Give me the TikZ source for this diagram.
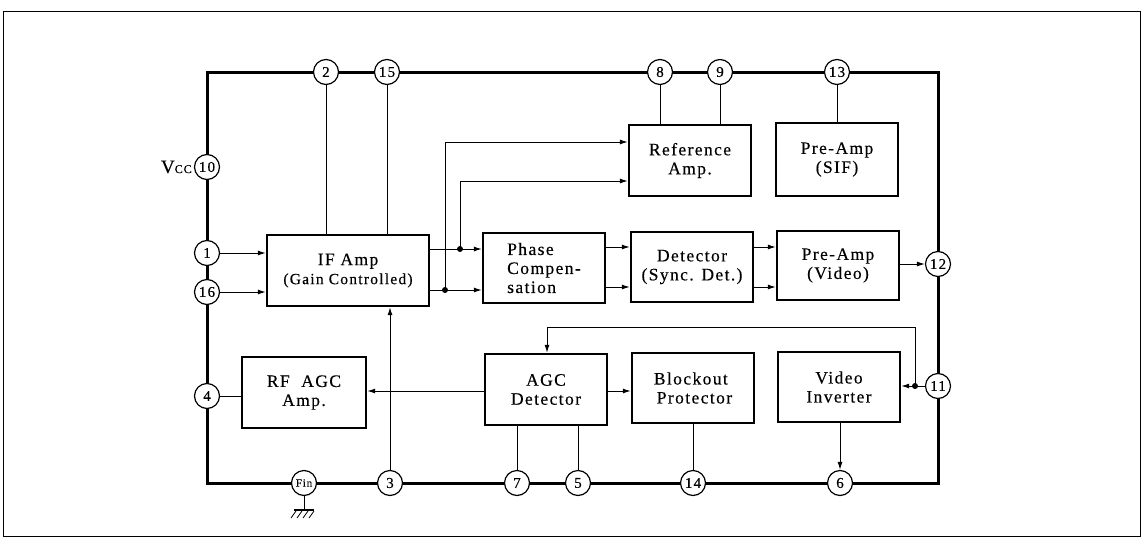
\documentclass[tikz,border=0pt]{standalone}
\usepackage{fontspec}
\setmainfont{Liberation Serif}[LetterSpace=8.0,FakeBold=0.3]
\usetikzlibrary{arrows.meta}
\begin{document}
\begin{tikzpicture}[x=1pt,y=-1pt,
  blk/.style={draw, line width=2.4pt, minimum width=122pt, minimum height=71pt, align=center, inner sep=0pt, font=\fontsize{17.5}{19}\selectfont},
  pinc/.style={draw, circle, fill=white, line width=1.2pt, minimum size=25pt, inner sep=0pt, font=\fontsize{15}{15}\selectfont},
  conn/.style={line width=1pt},
  arr/.style={line width=1pt, -{Latex[length=8pt,width=5pt]}},
  jdot/.style={circle, fill=black, inner sep=0pt, minimum size=6pt}]
\useasboundingbox (0,0) rectangle (1147,543);
% outer frame
\draw[line width=1pt] (3,12) rectangle (1140,536);
% chip frame
\draw[line width=3pt] (207,72) rectangle (938,483);

% blocks
\node[blk, minimum width=162pt] (ifamp) at (348,270.5) {IF Amp\\{\fontsize{15.5}{19}\selectfont(Gain Controlled)}};
\node[blk, minimum height=70pt, align=left] (phase) at (544,268) {Phase\\Compen-\\sation};
\node[blk] (ref) at (690,160.5) {Reference\\Amp.};
\node[blk, minimum height=73pt] (sif) at (837,159.5) {Pre-Amp\\(SIF)};
\node[blk, minimum height=70pt] (det) at (692,267) {Detector\\(Sync. Det.)};
\node[blk, minimum height=69pt] (vid) at (838,265.5) {Pre-Amp\\(Video)};
\node[blk, minimum width=124pt] (rfagc) at (304,392.5) {RF\ \ AGC\\Amp.};
\node[blk] (agcdet) at (546,389.5) {AGC\\Detector};
\node[blk, minimum height=70pt, align=left] (block) at (693,388) {Blockout\\\,Protector};
\node[blk, minimum height=70pt] (vinv) at (839,387) {Video\\Inverter};

% pins
\node[pinc] (p2) at (326,72) {2};
\node[pinc] (p15) at (387,72) {15};
\node[pinc] (p8) at (660,72) {8};
\node[pinc] (p9) at (720,72) {9};
\node[pinc] (p13) at (837,72) {13};
\node[pinc] (p10) at (207,167) {10};
\node[pinc] (p1) at (207,253) {1};
\node[pinc] (p16) at (207,292) {16};
\node[pinc] (p4) at (207,396) {4};
\node[pinc, font=\fontsize{11}{11}\selectfont] (fin) at (304,483) {Fin};
\node[pinc] (p3) at (390,483) {3};
\node[pinc] (p7) at (517,483) {7};
\node[pinc] (p5) at (578,483) {5};
\node[pinc] (p14) at (693,483) {14};
\node[pinc] (p6) at (840,483) {6};
\node[pinc] (p11) at (938,386) {11};
\node[pinc] (p12) at (938,264) {12};

\node[anchor=east, inner sep=2pt, font=\fontsize{19}{19}\selectfont] (vcc) at (p10.west) {V{\fontsize{12}{12}\selectfont CC}};

% coordinates
\coordinate (j1) at (460,249);
\coordinate (j2) at (445,290);
\coordinate (r1) at (600,142);
\coordinate (r2) at (600,181);
\coordinate (c1) at (0,247);
\coordinate (c2) at (0,287);
\coordinate (g1) at (0,391);
\coordinate (j3) at (915,386);
\coordinate (k1) at (547,327);
\coordinate (g0) at (304,510);

% top connections
\draw[conn] (p2) -- (p2 |- ifamp.north);
\draw[conn] (p15) -- (p15 |- ifamp.north);
\draw[conn] (p8) -- (p8 |- ref.north);
\draw[conn] (p9) -- (p9 |- ref.north);
\draw[conn] (p13) -- (p13 |- sif.north);

% inputs
\draw[arr] (p1) -- (p1 -| ifamp.west);
\draw[arr] (p16) -- (p16 -| ifamp.west);

% IF amp outputs
\draw[arr] (ifamp.east |- j1) -- (phase.west |- j1);
\draw[arr] (ifamp.east |- j2) -- (phase.west |- j2);
\draw[arr] (j2) |- (ref.west |- r1);
\draw[arr] (j1) |- (ref.west |- r2);
\node[jdot] at (j1) {};
\node[jdot] at (j2) {};

% phase -> detector -> preamp
\draw[arr] (phase.east |- c1) -- (det.west |- c1);
\draw[arr] (phase.east |- c2) -- (det.west |- c2);
\draw[arr] (det.east |- c1) -- (vid.west |- c1);
\draw[arr] (det.east |- c2) -- (vid.west |- c2);
\draw[arr] (vid.east |- p12) -- (p12);

% lower section
\draw[conn] (p4) -- (p4 -| rfagc.west);
\draw[arr] (agcdet.west |- g1) -- (rfagc.east |- g1);
\draw[arr] (p3) -- (p3 |- ifamp.south);
\draw[arr] (agcdet.east |- g1) -- (block.west |- g1);
\draw[conn] (agcdet.south -| p7) -- (p7);
\draw[conn] (agcdet.south -| p5) -- (p5);
\draw[conn] (block.south -| p14) -- (p14);
\draw[arr] (vinv.south -| p6) -- (p6);
\draw[arr] (p11) -- (vinv.east |- p11);
\draw[arr] (j3) |- (k1) -- (agcdet.north -| k1);
\node[jdot] at (j3) {};

% ground
\draw[conn] (fin) -- (g0);
\draw[line width=2pt] (294,510) -- (314,510);
\foreach \hx in {296,302,308,314} \draw[line width=0.8pt] (\hx-5,518) -- (\hx,511);
\end{tikzpicture}
\end{document}
